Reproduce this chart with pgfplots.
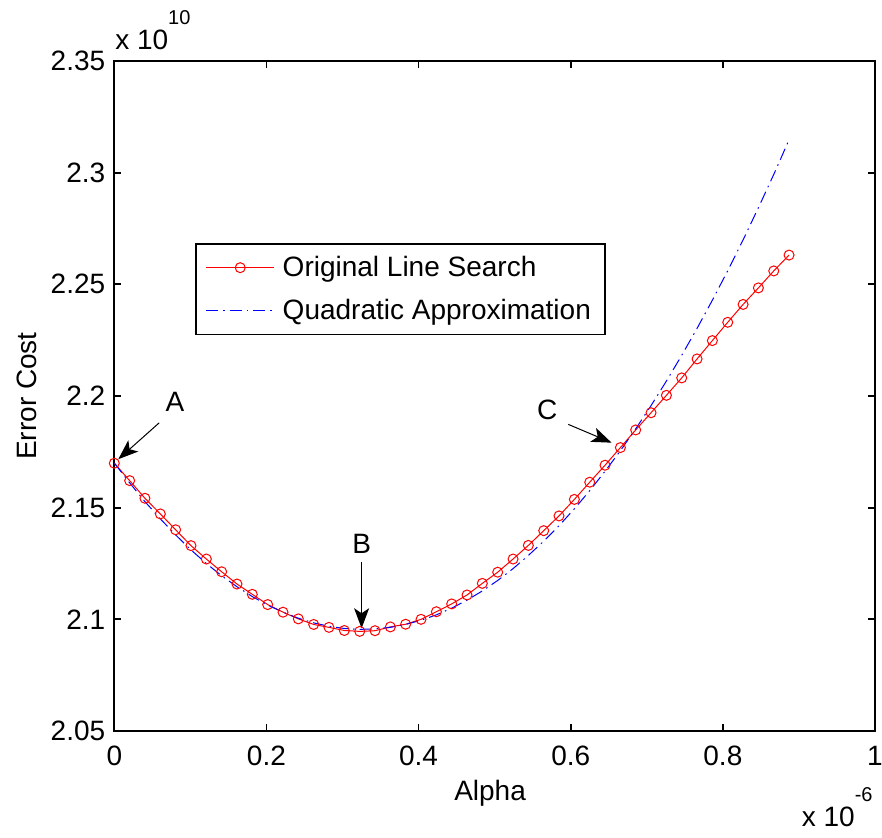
\documentclass[border=0pt]{standalone}
\usepackage{pgfplots}
\pgfplotsset{compat=1.18}
\usepackage{fontspec}
\setmainfont{Liberation Sans}
\usetikzlibrary{arrows.meta}
\newcommand{\fs}{\fontsize{14}{16.8}\selectfont}
\newcommand{\fss}{\fontsize{10}{12}\selectfont}
\begin{document}
\begin{tikzpicture}
\begin{axis}[
  name=ax,
  scale only axis,
  width=380.35pt, height=335pt,
  xmin=0, xmax=1, ymin=2.05, ymax=2.35,
  xtick={0,0.2,0.4,0.6,0.8,1},
  ytick={2.05,2.1,2.15,2.2,2.25,2.3,2.35},
  scaled x ticks=false, scaled y ticks=false,
  /pgf/number format/fixed,
  /pgf/number format/assume math mode=true,
  tick align=inside, tick pos=both,
  major tick length=3.5pt,
  axis line style={line width=0.9pt},
  every tick/.style={line width=0.9pt, black},
  tick label style={font=\fs},
  xticklabel style={yshift=-4pt},
  yticklabel style={xshift=-1pt},
  xlabel={Alpha}, ylabel={Error Cost},
  xlabel style={font=\fs, at={(axis description cs:0.494,-0.103)}, anchor=base},
  ylabel style={font=\fs, at={(axis description cs:-0.115,0.5)}, anchor=center, rotate=0},
  legend image code/.code={\draw[mark repeat=2,mark phase=2,#1] plot coordinates {(0pt,0pt) (17pt,0pt) (34pt,0pt)};},
  legend style={at={(rel axis cs:0.106,0.728)}, anchor=north west, draw=black, line width=0.8pt,
    font=\fs, inner xsep=5pt, inner ysep=4pt, row sep=6pt, cells={anchor=west},
    nodes={inner sep=2pt}},
  legend cell align=left,
]
\addplot[red, line width=0.5pt, mark=o, mark size=2.5pt, mark options={solid, line width=0.5pt}] coordinates {
(0,2.1699) (0.0202,2.1621) (0.0403,2.1542) (0.0605,2.1472) (0.0806,2.1401)
(0.1008,2.1330) (0.1210,2.1270) (0.1411,2.1213) (0.1613,2.1158) (0.1814,2.1112)
(0.2016,2.1066) (0.2218,2.1032) (0.2419,2.1002) (0.2621,2.0977) (0.2822,2.0964)
(0.3024,2.0950) (0.3226,2.0946) (0.3427,2.0949) (0.3629,2.0966) (0.3830,2.0978)
(0.4032,2.1000) (0.4234,2.1034) (0.4435,2.1069) (0.4637,2.1109) (0.4838,2.1161)
(0.5040,2.1211) (0.5242,2.1270) (0.5443,2.1331) (0.5645,2.1397) (0.5846,2.1463)
(0.6048,2.1537) (0.6250,2.1614) (0.6451,2.1690) (0.6653,2.1769) (0.6854,2.1848)
(0.7056,2.1925) (0.7258,2.2003) (0.7459,2.2081) (0.7661,2.2166) (0.7862,2.2248)
(0.8064,2.2330) (0.8266,2.2410) (0.8467,2.2484) (0.8669,2.2560) (0.8870,2.2631)
};
\addlegendentry{\hspace{2pt}Original Line Search}
\addplot[blue, line width=0.5pt, dash pattern=on 6pt off 2.5pt on 0.8pt off 2.5pt] coordinates {
(0,2.1700) (0.0202,2.1611) (0.0403,2.1527) (0.0605,2.1450) (0.0806,2.1378)
(0.1008,2.1311) (0.1210,2.1250) (0.1411,2.1195) (0.1613,2.1146) (0.1814,2.1102)
(0.2016,2.1064) (0.2218,2.1032) (0.2419,2.1005) (0.2621,2.0984) (0.2822,2.0969)
(0.3024,2.0959) (0.3226,2.0955) (0.3427,2.0957) (0.3629,2.0964) (0.3830,2.0977)
(0.4032,2.0996) (0.4234,2.1020) (0.4435,2.1050) (0.4637,2.1086) (0.4838,2.1127)
(0.5040,2.1174) (0.5242,2.1227) (0.5443,2.1286) (0.5645,2.1350) (0.5846,2.1419)
(0.6048,2.1495) (0.6250,2.1576) (0.6451,2.1663) (0.6653,2.1755) (0.6854,2.1853)
(0.7056,2.1957) (0.7258,2.2067) (0.7459,2.2182) (0.7661,2.2303) (0.7862,2.2429)
(0.8064,2.2561) (0.8266,2.2699) (0.8467,2.2843) (0.8669,2.2992) (0.8870,2.3147)
};
\addlegendentry{\hspace{2pt}Quadratic Approximation}
% annotations
\node[font=\fs, anchor=center] at (axis cs:0.0798,2.1975) {A};
\draw[line width=0.5pt, -{Stealth[length=10pt,width=7.5pt,inset=2.5pt]}] (axis cs:0.0591,2.1880) -- (axis cs:0.0053,2.1717);
\node[font=\fs, anchor=center] at (axis cs:0.3251,2.1340) {B};
\draw[line width=0.5pt, -{Stealth[length=10pt,width=7.5pt,inset=2.5pt]}] (axis cs:0.3251,2.1258) -- (axis cs:0.3251,2.0960);
\node[font=\fs, anchor=center] at (axis cs:0.5691,2.1940) {C};
\draw[line width=0.5pt, -{Stealth[length=10pt,width=7.5pt,inset=2.5pt]}] (axis cs:0.5967,2.1873) -- (axis cs:0.6537,2.1791);
\end{axis}
% multipliers
\node[font=\fs, anchor=base west, inner sep=0pt] at ([xshift=0.3pt,yshift=5.5pt]ax.north west) {x 10\raisebox{12.5pt}{\fss 10}};
\node[font=\fs, anchor=base east, inner sep=0pt] at ([xshift=-1pt,yshift=-48pt]ax.south east) {x 10\raisebox{12.5pt}{\fss -6}};
\pgfresetboundingbox
\path ([xshift=-57.15pt,yshift=-53.5pt]ax.south west) rectangle ([xshift=3.5pt,yshift=30.5pt]ax.north east);
\end{tikzpicture}
\end{document}
